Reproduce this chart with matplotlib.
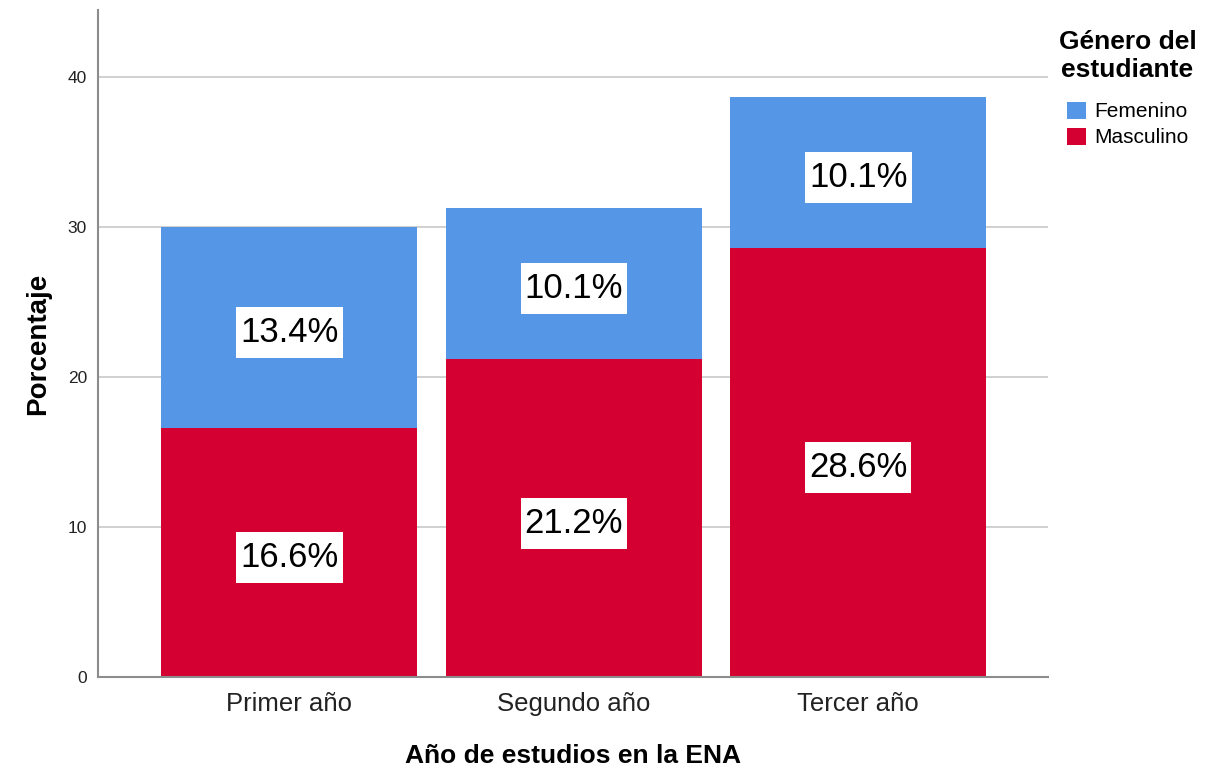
import numpy as np
import matplotlib.pyplot as plt
from matplotlib.patches import Patch
from matplotlib.path import Path

plt.rcParams['font.family'] = ['Liberation Sans', 'DejaVu Sans']

# datos
anios = ['Primer año', 'Segundo año', 'Tercer año']
masculino = [16.6, 21.2, 28.6]
femenino = [13.4, 10.1, 10.1]

color_fem = '#5596E6'
color_masc = '#D50032'


def caja_etiqueta(x0, y0, width, height, mutation_size):
    # caja blanca con más relleno vertical que horizontal (en píxeles)
    px, py = 4, 9
    x0, x1 = x0 - px, x0 + width + px
    y0, y1 = y0 - py, y0 + height + py
    return Path([(x0, y0), (x1, y0), (x1, y1), (x0, y1), (x0, y0)], closed=True)


fig = plt.figure(figsize=(12.19, 7.69), dpi=100)
ax = fig.add_axes([0.0804, 0.1196, 0.7793, 0.8674])

x = np.arange(len(anios))
ax.bar(x, masculino, width=0.9, color=color_masc, zorder=2)
ax.bar(x, femenino, width=0.9, bottom=masculino, color=color_fem, zorder=2)

caja = dict(facecolor='white', edgecolor='none', boxstyle=caja_etiqueta)
for i in range(len(anios)):
    ax.annotate(f'{masculino[i]:.1f}%', (x[i], masculino[i] / 2), xytext=(0, -3.5),
                textcoords='offset points', ha='center', va='center',
                fontsize=25, bbox=caja, zorder=3)
    ax.annotate(f'{femenino[i]:.1f}%', (x[i], masculino[i] + femenino[i] / 2),
                xytext=(0, -3.5), textcoords='offset points', ha='center',
                va='center', fontsize=25, bbox=caja, zorder=3)

ax.set_xlim(-0.673, 2.667)
ax.set_ylim(0, 44.5)
ax.set_yticks([0, 10, 20, 30, 40])
ax.set_xticks(x)
ax.set_xticklabels(anios, fontsize=18.5, color='#222222')
ax.tick_params(axis='y', labelsize=12.5, labelcolor='#222222', length=0, pad=8)
ax.tick_params(axis='x', length=0, pad=11)
ax.yaxis.grid(True, color='#c8c8c8', linewidth=1.2, zorder=0)
ax.set_axisbelow(True)

for s in ['top', 'right']:
    ax.spines[s].set_visible(False)
for s in ['left', 'bottom']:
    ax.spines[s].set_color('#8c8c8c')
    ax.spines[s].set_linewidth(1.5)

ax.set_xlabel('Año de estudios en la ENA', fontsize=19, fontweight='bold', labelpad=20)
ax.set_ylabel('Porcentaje', fontsize=20, fontweight='bold', labelpad=12)

handles = [Patch(facecolor=color_fem, label='Femenino'),
           Patch(facecolor=color_masc, label='Masculino')]
leg = fig.legend(handles=handles, title='Género del\nestudiante', loc='upper left',
                 bbox_to_anchor=(0.853, 0.985), frameon=False, fontsize=15,
                 title_fontproperties={'weight': 'bold', 'size': 19},
                 handlelength=0.9, handleheight=0.9, handletextpad=0.4,
                 labelspacing=0.3)
leg.get_title().set_multialignment('center')
leg._legend_box.sep = 14

fig.savefig('out.png', dpi=100)
